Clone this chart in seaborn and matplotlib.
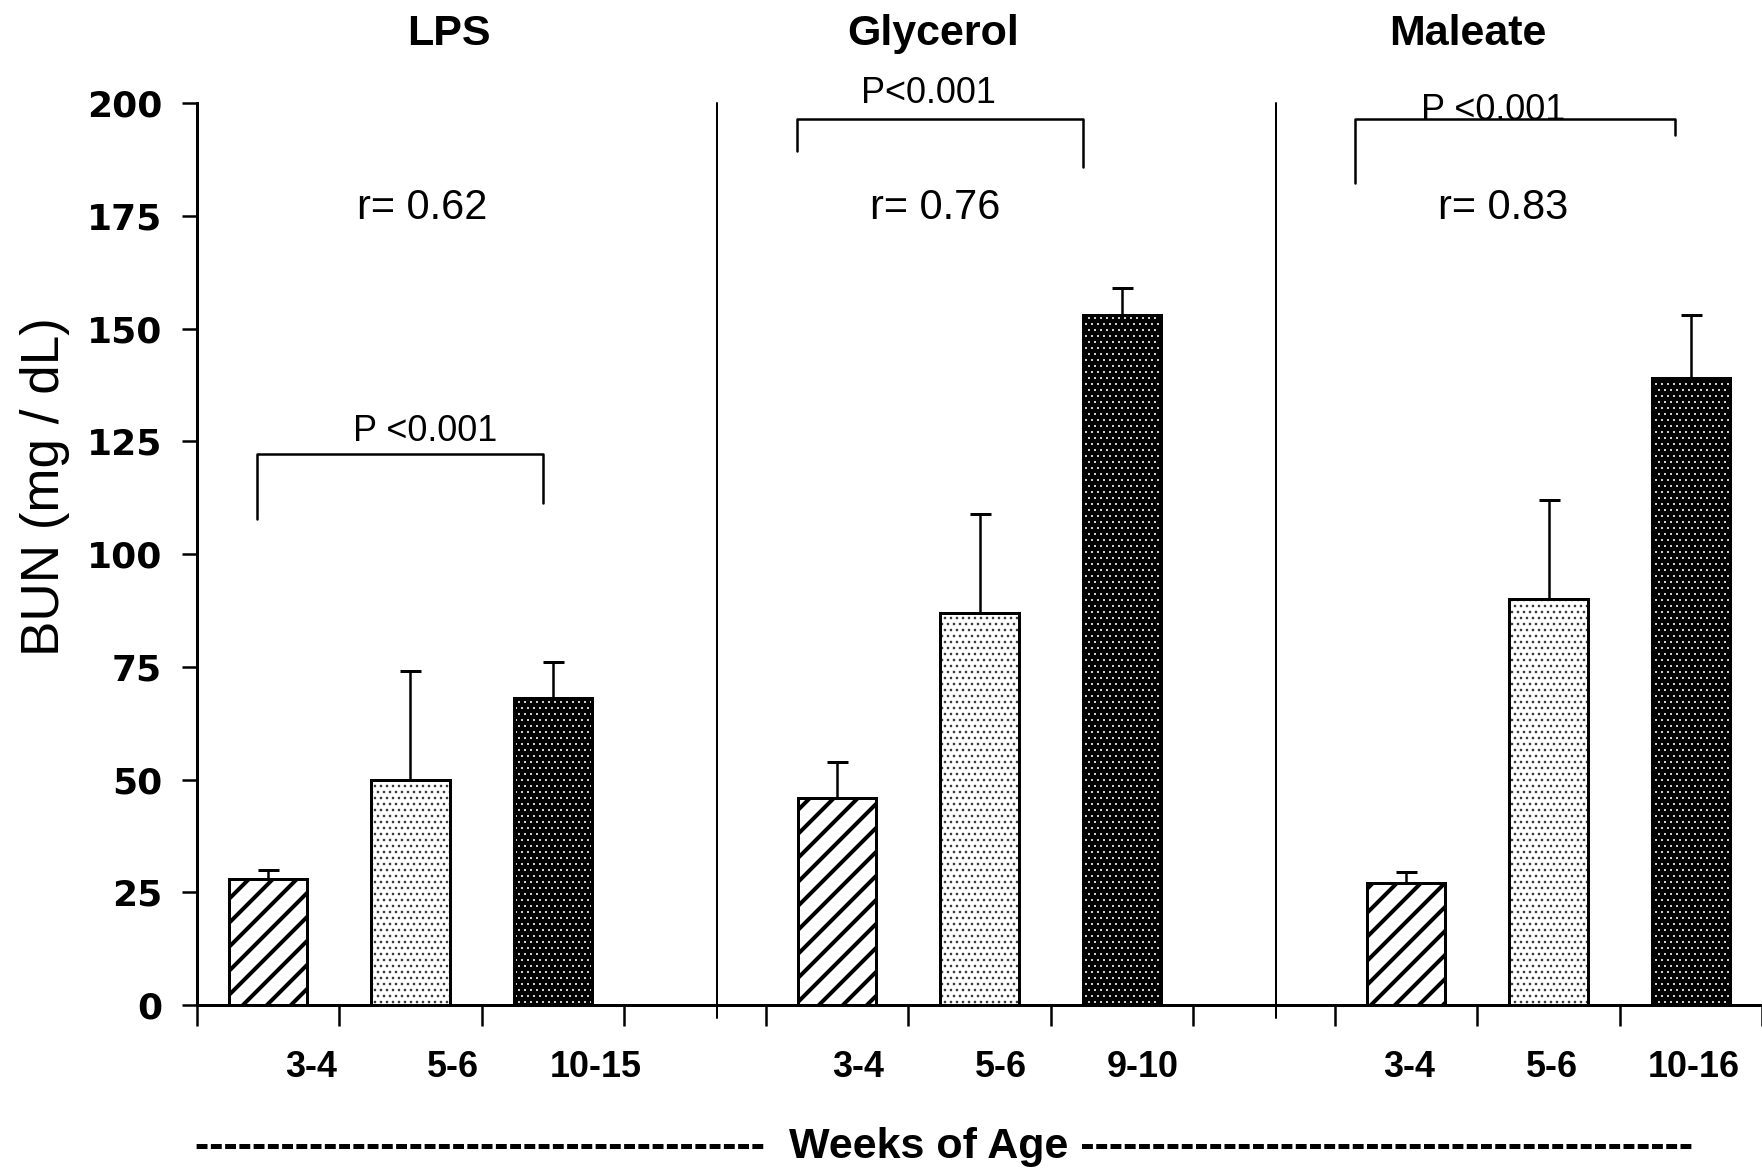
import matplotlib
matplotlib.use("Agg")
import matplotlib.pyplot as plt
from matplotlib.patches import Rectangle
import numpy as np
import pandas as pd
import seaborn as sns

# ---------------- data ----------------
groups = ["LPS", "Glycerol", "Maleate"]
lps_ages = ["3-4", "5-6", "10-15"]
glycerol_ages = ["3-4", "5-6", "9-10"]
maleate_ages = ["3-4", "5-6", "10-16"]
lps_bun = [28, 50, 68]
lps_err = [2, 24, 8]
glycerol_bun = [46, 87, 153]
glycerol_err = [8, 22, 6]
maleate_bun = [27, 90, 139]
maleate_err = [2.5, 22, 14]
r_labels = ["r= 0.62", "r= 0.76", "r= 0.83"]
p_labels = ["P <0.001", "P<0.001", "P <0.001"]
y_ticks = [0, 25, 50, 75, 100, 125, 150, 175, 200]

ages = [lps_ages, glycerol_ages, maleate_ages]
buns = [lps_bun, glycerol_bun, maleate_bun]
errs = [lps_err, glycerol_err, maleate_err]

rows = []
for g, grp in enumerate(groups):
    for j in range(3):
        rows.append({"group": grp, "age": ages[g][j], "pos": g * 4 + j,
                     "bun": buns[g][j], "err": errs[g][j], "style": j})
df = pd.DataFrame(rows)

# ---------------- style ----------------
sns.set_theme(style="ticks")
plt.rcParams["font.family"] = ["Liberation Sans", "DejaVu Sans"]
plt.rcParams["hatch.linewidth"] = 4.0
for key in ["text.color", "axes.labelcolor", "xtick.color", "ytick.color",
            "axes.edgecolor"]:
    plt.rcParams[key] = "black"

W, H, DPI = 1762, 1169, 72
fig = plt.figure(figsize=(W / DPI, H / DPI), dpi=DPI)
ax = fig.add_axes([197 / W, 164 / H, 1565 / W, 901.6 / H])

sns.barplot(data=df, x="pos", y="bun", native_scale=True, width=0.55,
            color="white", edgecolor="black", linewidth=3, errorbar=None,
            saturation=1, ax=ax, zorder=2)

patches = sorted(ax.patches, key=lambda p: p.get_x())
for k, p in enumerate(patches):
    style = df["style"].iloc[k]
    if style == 0:
        p.set_facecolor("white")
        p.set_hatch("/")
        if hasattr(p, "set_hatch_linewidth"):
            p.set_hatch_linewidth(4.0)
    else:
        face = "white" if style == 1 else "black"
        dot = "#3a3a3a" if style == 1 else "#e8e8e8"
        dlw = 1.4 if style == 1 else 0.9
        p.set_facecolor(face)
        with plt.rc_context({"hatch.linewidth": dlw}):
            ov = Rectangle((p.get_x(), p.get_y()), p.get_width(), p.get_height(),
                           facecolor="none", edgecolor=dot, linewidth=0,
                           hatch="..", zorder=2.1)
        if hasattr(ov, "set_hatch_linewidth"):
            ov.set_hatch_linewidth(dlw)
        ax.add_patch(ov)
        edge = Rectangle((p.get_x(), p.get_y()), p.get_width(), p.get_height(),
                         facecolor="none", edgecolor="black", linewidth=3,
                         zorder=2.2)
        ax.add_patch(edge)

ax.errorbar(df["pos"], df["bun"], yerr=[np.zeros(len(df)), df["err"]],
            fmt="none", ecolor="black", elinewidth=2.5, capsize=10.5,
            capthick=3, zorder=3)

# ---------------- axes ----------------
ax.set_ylim(0, 200)
ax.set_xlim(-0.5, -0.5 + 1565 / 142.8)
ax.set_yticks(y_ticks)
ax.set_yticklabels([str(v) for v in y_ticks], fontfamily="DejaVu Sans",
                   fontweight="bold", fontsize=36)
ax.set_xticks(np.arange(-0.5, 11, 1.0))
ax.set_xticklabels([])
ax.tick_params(axis="y", direction="out", length=15, width=2.5, pad=20,
               colors="black")
ax.tick_params(axis="x", direction="out", length=21, width=2.5, colors="black")
for s in ["top", "right"]:
    ax.spines[s].set_visible(False)
for s in ["left", "bottom"]:
    ax.spines[s].set_linewidth(3)
    ax.spines[s].set_color("black")
ax.set_xlabel("")
ax.set_ylabel("")

# age labels under the bars
label_shift = [0.3, 0.15, 0.02]
for _, r in df.iterrows():
    g = groups.index(r["group"])
    ax.text(r["pos"] + label_shift[g], -16, r["age"], ha="center",
            va="baseline", fontsize=36, fontweight="bold", clip_on=False)

# group titles
title_x = [1.268, 4.672, 8.433]
for g, grp in enumerate(groups):
    ax.text(title_x[g], 213, grp, ha="center", va="baseline", fontsize=43,
            fontweight="bold", clip_on=False)

# separators
for sx in [3.155, 7.084]:
    ax.plot([sx, sx], [200, -2.8], color="black", lw=2, clip_on=False,
            zorder=3)

# r values
r_x = [1.08, 4.69, 8.68]
for g in range(3):
    ax.text(r_x[g], 174.3, r_labels[g], ha="center", va="baseline",
            fontsize=41.5)

# significance brackets
brackets = [(-0.078, 1.93, 107.8, 122.3, 111.4),
            (3.716, 5.73, 189.4, 196.5, 185.8),
            (7.64, 9.885, 182.3, 196.5, 192.9)]
p_pos = [(1.10, 125.2), (4.64, 200.1), (8.61, 196.3)]
for g, (x0, x1, yl, yh, yr) in enumerate(brackets):
    ax.plot([x0, x0, x1, x1], [yl, yh, yh, yr], color="black", lw=2.5,
            clip_on=False, zorder=3)
    ax.text(p_pos[g][0], p_pos[g][1], p_labels[g], ha="center",
            va="baseline", fontsize=36, clip_on=False, zorder=2.5)

# axis titles
fig.text(45 / W, 1 - 487 / H, "BUN (mg / dL)", rotation=90, ha="center",
         va="center", fontsize=53)
fig.text(195 / W, 1 - 1158 / H,
         "-" * 40 + "  Weeks of Age " + "-" * 43, ha="left", va="baseline",
         fontsize=43, fontweight="bold")

fig.savefig("out.png", dpi=DPI, facecolor="white")
